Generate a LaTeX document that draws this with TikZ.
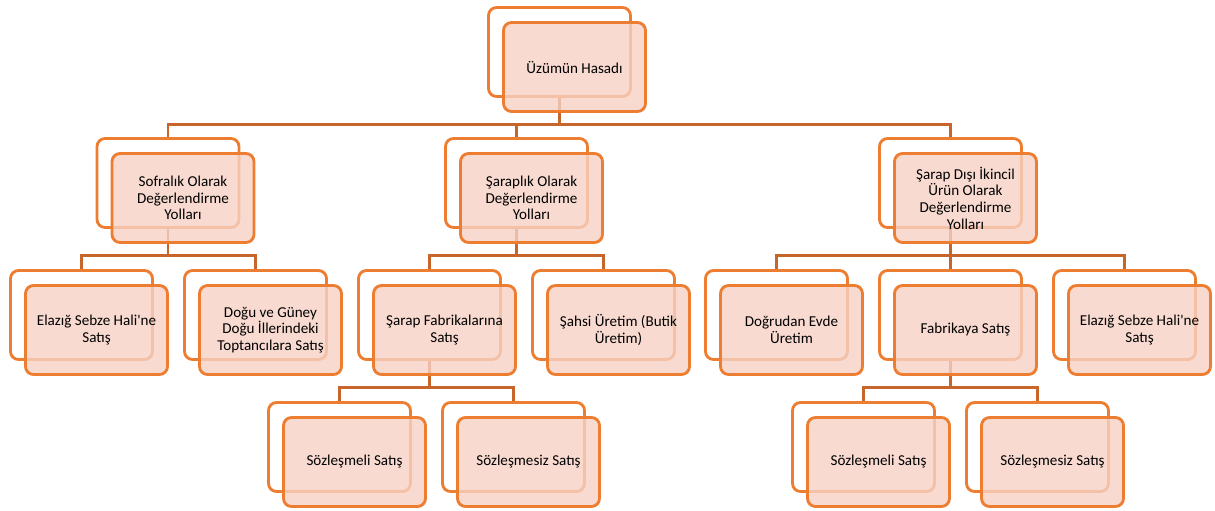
\documentclass[tikz,border=0pt]{standalone}
\usepackage{fontspec}
\setmainfont{Carlito}
\usepackage{xcolor}
\usetikzlibrary{backgrounds}

\definecolor{kenar}{HTML}{ED7D31}
\definecolor{dolgu}{HTML}{F6D1C4}
\definecolor{hat}{HTML}{C8652A}

\tikzset{
  backbox/.style={draw=kenar, line width=1.6pt, rounded corners=0.16cm,
    minimum width=2.84cm, minimum height=1.78cm, outer sep=0pt, inner sep=0pt},
  frontbox/.style={backbox, fill=dolgu, fill opacity=0.8, text opacity=1,
    text=black, align=center, font=\fontsize{8.6}{9.5}\selectfont},
  link/.style={draw=hat, line width=1.2pt}
}

\begin{document}
\begin{tikzpicture}[x=0.02cm, y=-0.02cm]
    \useasboundingbox (0,0) rectangle (1215,511);
    % kutular: arka cerceve + onde yari saydam kutu
    \foreach \ad/\x/\y/\metin in {
      hasad/559.5/52/{Üzümün Hasadı},
      sofra/168/183/{Sofralık Olarak\\Değerlendirme\\Yolları},
      sarap/516.5/183/{Şaraplık Olarak\\Değerlendirme\\Yolları},
      ikincil/950.5/183/{Şarap Dışı İkincil\\Ürün Olarak\\Değerlendirme\\Yolları},
      elazig/81.5/315/{Elazığ Sebze Hali\textquotesingle ne\\Satış},
      toptan/255.5/315/{Doğu ve Güney\\Doğu İllerindeki\\Toptancılara Satış},
      fabrika/429.5/315/{Şarap Fabrikalarına\\Satış},
      butik/603.5/315/{Şahsi Üretim (Butik\\Üretim)},
      evde/776.5/315/{Doğrudan Evde\\Üretim},
      fabsat/950.5/315/{Fabrikaya Satış},
      elazigiki/1124.5/315/{Elazığ Sebze Hali\textquotesingle ne\\Satış},
      soz/339.5/447/{Sözleşmeli Satış},
      sozsuz/513.5/447/{Sözleşmesiz Satış},
      sozfab/863.5/447/{Sözleşmeli Satış},
      sozsuzfab/1037.5/447/{Sözleşmesiz Satış}} {
      \node[backbox] (b\ad) at (\x,\y) {};
      \node[frontbox] (\ad) at ([shift={(15,15)}]b\ad.center) {\metin};
    }
    % baglantilar
    \begin{scope}[on background layer]
      \foreach \ust/\alt in {hasad/sofra, hasad/sarap, hasad/ikincil,
          sofra/elazig, sofra/toptan, sarap/fabrika, sarap/butik,
          ikincil/evde, ikincil/fabsat, ikincil/elazigiki,
          fabrika/soz, fabrika/sozsuz, fabsat/sozfab, fabsat/sozsuzfab} {
        \draw[link] (b\ust.south) -- ++(0,28) -| (b\alt.north);
      }
    \end{scope}
  \end{tikzpicture}
\end{document}
